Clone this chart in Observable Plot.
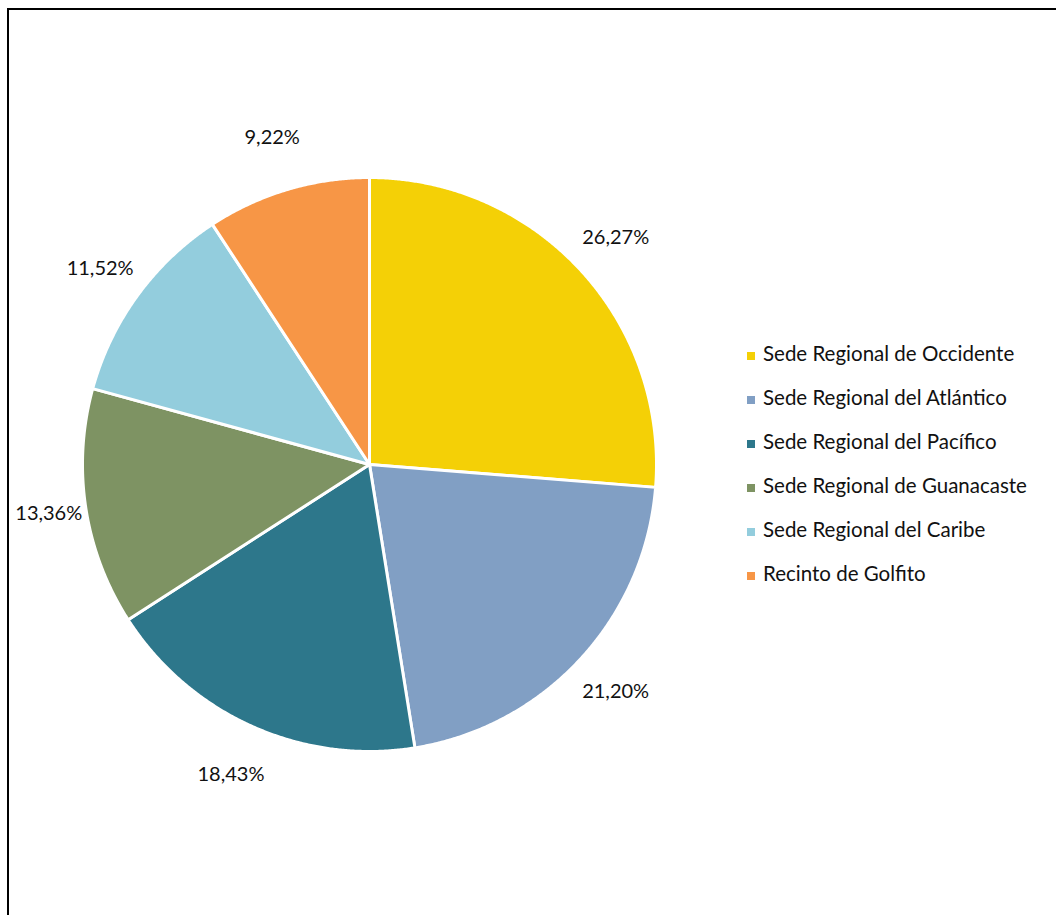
<!DOCTYPE html>
<html>
<head>
<meta charset="utf-8">
<script src="https://cdn.jsdelivr.net/npm/d3@7"></script>
<script src="https://cdn.jsdelivr.net/npm/@observablehq/plot@0.6"></script>
<style>
  html, body { margin: 0; padding: 0; background: #fff; overflow: hidden; }
  #wrap { position: relative; width: 1056px; height: 915px; }
  #frame { position: absolute; left: 7px; top: 8px; width: 1100px; height: 1000px; border: 2px solid #000; box-sizing: border-box; pointer-events: none; }
  #chart { position: absolute; left: 0; top: 0; }
  #legend { position: absolute; left: 747px; top: 341px; font-family: Lato, "Open Sans", sans-serif; font-size: 20.5px; color: #111; }
  .item { height: 44px; display: flex; align-items: flex-start; }
  .sw { width: 8px; height: 8px; margin-top: 11px; margin-right: 8px; flex: none; }
</style>
</head>
<body>
<div id="wrap">
  <div id="chart"></div>
  <div id="legend"></div>
  <div id="frame"></div>
</div>
<script>
const categories = [
  "Sede Regional de Occidente",
  "Sede Regional del Atlántico",
  "Sede Regional del Pacífico",
  "Sede Regional de Guanacaste",
  "Sede Regional del Caribe",
  "Recinto de Golfito"
];
const values = [26.27, 21.20, 18.43, 13.36, 11.52, 9.22];
const labels = ["26,27%", "21,20%", "18,43%", "13,36%", "11,52%", "9,22%"];
const colors = ["#F4D006", "#819FC4", "#2D778B", "#7E9363", "#93CDDD", "#F79646"];

// Pie angles (clockwise from 12 o'clock), in data units
const arcs = d3.pie().sort(null).value(d => d)(values);
const pts = [];
const lbl = [];
arcs.forEach((a, i) => {
  const cat = categories[i];
  pts.push({cat, x: 0, y: 0});
  const n = Math.max(2, Math.ceil((a.endAngle - a.startAngle) / 0.005));
  for (let k = 0; k <= n; k++) {
    const t = a.startAngle + (a.endAngle - a.startAngle) * k / n;
    pts.push({cat, x: Math.sin(t), y: Math.cos(t)});
  }
  pts.push({cat, x: 0, y: 0});
  const m = (a.startAngle + a.endAngle) / 2;
  const r = 1.12 + 0.07 * Math.abs(Math.cos(m));
  lbl.push({label: labels[i], x: r * Math.sin(m), y: r * Math.cos(m)});
});

const cx = 369, cy = 464, R = 287;
const chart = Plot.plot({
  width: 1056,
  height: 915,
  margin: 0,
  x: {domain: [-1, 1], range: [cx - R, cx + R], axis: null},
  y: {domain: [-1, 1], range: [cy + R, cy - R], axis: null},
  color: {domain: categories, range: colors},
  style: {background: "transparent", overflow: "visible"},
  marks: [
    Plot.line(pts, {x: "x", y: "y", z: "cat", fill: "cat", stroke: "white", strokeWidth: 3, strokeLinejoin: "round", curve: "linear"}),
    Plot.text(lbl, {x: "x", y: "y", text: "label", fontSize: 20, fontFamily: "Lato, 'Open Sans', sans-serif", fill: "#111"})
  ]
});
document.getElementById("chart").appendChild(chart);

const legend = document.getElementById("legend");
categories.forEach((c, i) => {
  const row = document.createElement("div");
  row.className = "item";
  const sw = document.createElement("div");
  sw.className = "sw";
  sw.style.background = colors[i];
  const tx = document.createElement("span");
  tx.textContent = c;
  row.appendChild(sw);
  row.appendChild(tx);
  legend.appendChild(row);
});
</script>
</body>
</html>
